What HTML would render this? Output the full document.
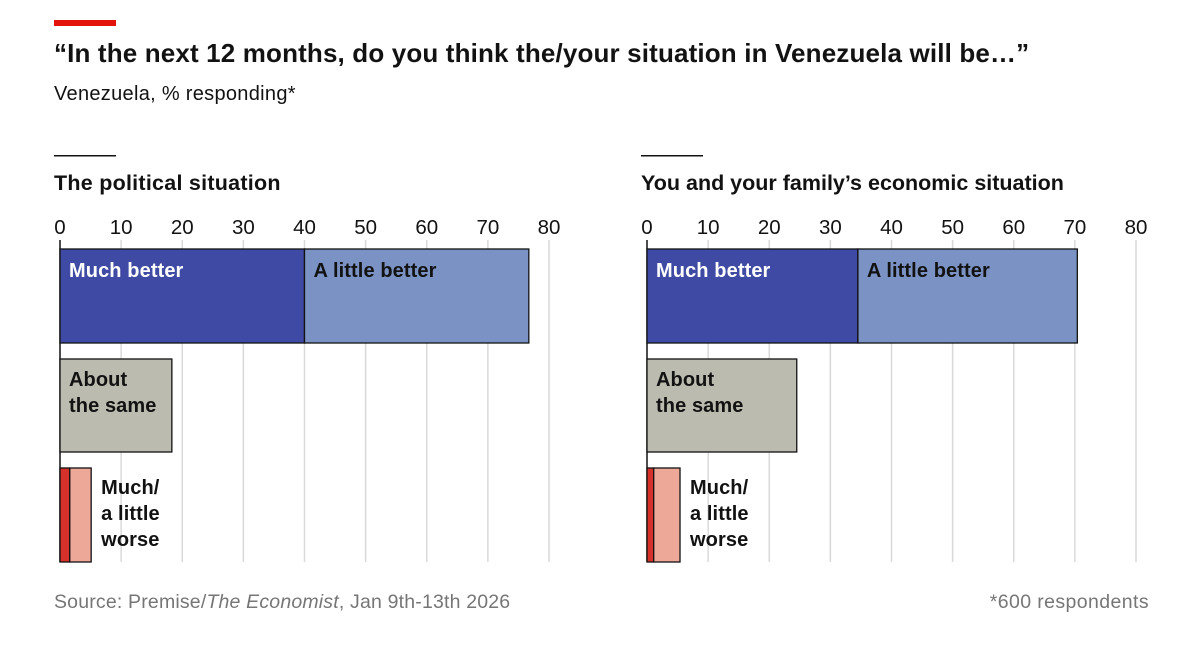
<!DOCTYPE html>
<html><head><meta charset="utf-8">
<style>
body{margin:0;background:#fff;font-family:"Liberation Sans",sans-serif;}
#wrap{position:relative;width:1200px;height:649px;overflow:hidden;}
.t{position:absolute;white-space:nowrap;}
</style></head>
<body>
<div id="wrap">
<div style="position:absolute;left:54px;top:20px;width:62px;height:6px;background:#e3120b"></div>
<div class="t" style="left:54px;top:38px;font-size:26px;font-weight:bold;color:#121212;letter-spacing:0.15px">“In the next 12 months, do you think the/your situation in Venezuela will be…”</div>
<div class="t" style="left:54px;top:83px;font-size:20px;color:#121212;letter-spacing:0.3px">Venezuela, % responding*</div>
<div class="t" style="left:54px;top:591px;font-size:19.5px;color:#767676;letter-spacing:0.18px">Source: Premise/<i>The Economist</i>, Jan 9th-13th 2026</div>
<div class="t" style="right:51px;top:591px;font-size:19.5px;color:#767676;letter-spacing:0.4px">*600 respondents</div>
<svg id="svg" width="1200" height="649" style="position:absolute;left:0;top:0"></svg>
</div>
<script>
const panelTitles=["The political situation","You and your family’s economic situation"];
const muchBetter=[40,34.5];
const littleBetter=[36.7,35.9];
const aboutSame=[18.3,24.5];
const muchWorse=[1.6,1.1];
const littleWorse=[3.5,4.3];
const ticks=[0,10,20,30,40,50,60,70,80];
const NS="http://www.w3.org/2000/svg";
const svg=document.getElementById('svg');
function mk(tag,at,txt){const e=document.createElementNS(NS,tag);for(const k in at)e.setAttribute(k,at[k]);if(txt!==undefined)e.textContent=txt;svg.appendChild(e);return e;}
const x0s=[60,647],scale=(549-60)/80;
const font='"Liberation Sans",sans-serif';
for(let p=0;p<2;p++){
  const x=v=>x0s[p]+v*scale;
  const pl=p?'right':'left';
  let e=mk('rect',{x:x0s[p]-6,y:155,width:62,height:1.5,fill:'#121212'});
  
  
  e=mk('text',{x:x0s[p]-6,y:190,'font-size':21.5,'font-weight':'bold','font-family':font,fill:'#121212','letter-spacing':p?'0':'0.25'},panelTitles[p]);
  
  
  ticks.forEach(t=>{
    e=mk('line',{x1:x(t),x2:x(t),y1:240,y2:562,stroke:t===0?'#121212':'#d9d9d9','stroke-width':1.5});
    
    
    e=mk('text',{x:x(t),y:234,'font-size':20.5,'font-family':font,fill:'#121212','text-anchor':'middle'},String(t));
    
    
  });
  const bar=(v0,v1,y,h,fill,name)=>{const r=mk('rect',{x:x(v0),y:y,width:x(v1)-x(v0),height:h,fill:fill,stroke:'#121212','stroke-width':1.3});
    
    };
  bar(0,muchBetter[p],249,94,'#3e4aa3','much-better');
  bar(muchBetter[p],muchBetter[p]+littleBetter[p],249,94,'#7b93c4','a-little-better');
  bar(0,aboutSame[p],359,93,'#bcbbaf','about-the-same');
  bar(0,muchWorse[p],468,94,'#d6312b','much-worse');
  bar(muchWorse[p],muchWorse[p]+littleWorse[p],468,94,'#eea898','a-little-worse');
  const lab=(t,xx,y,fill,name)=>{const e=mk('text',{x:xx,y:y,'font-size':20,'font-weight':'bold','font-family':font,fill:fill,'letter-spacing':'0.1'},t);
    
    };
  lab('Much better',x(0)+9,277,'#fff','much-better');
  lab('A little better',x(muchBetter[p])+9,277,'#121212','a-little-better');
  lab('About',x(0)+9,386,'#121212','about');
  lab('the same',x(0)+9,412,'#121212','the-same');
  const wx=x(muchWorse[p]+littleWorse[p])+10;
  lab('Much/',wx,494,'#121212','much');
  lab('a little',wx,520,'#121212','a-little');
  lab('worse',wx,546,'#121212','worse');
}
</script>
</body></html>
